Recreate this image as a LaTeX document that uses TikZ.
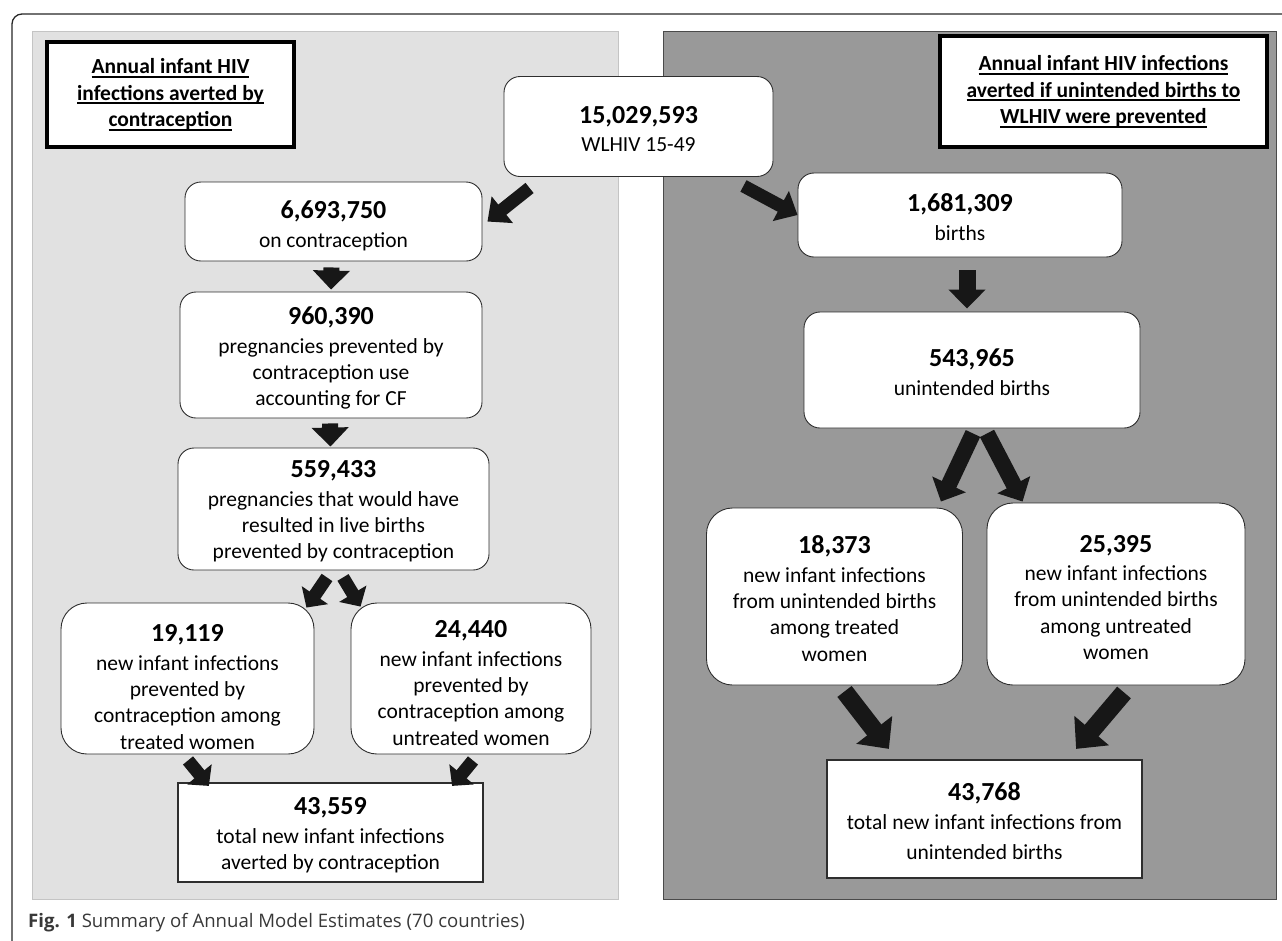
\documentclass[tikz,border=0pt]{standalone}
\usepackage{fontspec}
\setmainfont{Carlito}
\newfontfamily\capfont{Open Sans}
\usetikzlibrary{arrows.meta,calc}
\definecolor{lightpanel}{HTML}{E1E1E1}
\definecolor{lightedge}{HTML}{C4C4C4}
\definecolor{darkpanel}{HTML}{999999}
\definecolor{darkedge}{HTML}{4A4A4A}
\definecolor{arrowc}{HTML}{171717}
\definecolor{boxedge}{HTML}{2E2E2E}
\definecolor{captext}{HTML}{383838}
% number line; optional argument = downward shift of the whole text block
\newcommand{\bignum}[2][0]{\rule{0pt}{\dimexpr 18pt+#1pt+#1pt\relax}{\fontsize{26}{29}\selectfont\bfseries #2}}
\newcommand{\uln}[1]{\setbox0\hbox{#1}\rlap{\rule[-4pt]{\wd0}{1.6pt}}\box0}
\begin{document}
\begin{tikzpicture}[x=1pt,y=-1pt,
  rbox/.style={draw=boxedge, line width=0.9pt, fill=white, rounded corners=16pt,
    align=center, inner sep=0pt, font=\fontsize{21.5}{26.3}\selectfont},
  bigbox/.style={rbox, rounded corners=26pt},
  sqbox/.style={draw=boxedge, line width=2.2pt, fill=white, sharp corners,
    align=center, inner sep=0pt, font=\fontsize{21.5}{26.5}\selectfont},
  titlebox/.style={draw=black, line width=4.5pt, fill=white, align=center, inner sep=0pt,
    font=\fontsize{21.5}{26.5}\selectfont\bfseries},
  blk/.style={draw=arrowc, line width=#1, -{Triangle[width=36pt,length=19pt]}},
  blk/.default=15pt,
  blkdiag/.style={draw=arrowc, line width=13pt, -{Triangle[width=33pt,length=19pt]}},
  blkbig/.style={draw=arrowc, line width=18pt, -{Triangle[width=44pt,length=24pt]}},
  blksmall/.style={draw=arrowc, line width=13pt, -{Triangle[width=31pt,length=15pt]}}
]
\useasboundingbox (0,0) rectangle (1282,940);
% outer frame
\draw[line width=1.3pt, draw=black!85, rounded corners=10pt] (12,950) -- (12,14) -- (1295,14);
% panels
\filldraw[fill=lightpanel, draw=lightedge, line width=1pt] (32,31) rectangle (618,899);
\filldraw[fill=darkpanel, draw=darkedge, line width=1pt] (663,31) rectangle (1276,899);

% title boxes
\node[titlebox, minimum width=247pt, minimum height=105pt] (tl) at (170.5,94.5)
  {\uln{Annual infant HIV}\\\uln{infections averted by}\\\uln{contraception}};
\node[titlebox, minimum width=327pt, minimum height=111pt] (tr) at (1103.5,91.5)
  {\uln{Annual infant HIV infections}\\\uln{averted if unintended births to}\\\uln{WLHIV were prevented}};

% left column
\node[rbox, minimum width=269pt, minimum height=100pt] (n15) at (638.5,126.5)
  {\bignum[2]{15,029,593}\\[1.5pt]WLHIV 15-49};
\node[rbox, minimum width=297pt, minimum height=79pt] (n669) at (333.5,221.5)
  {\bignum[4]{6,693,750}\\[2.5pt]on contraception};
\node[rbox, minimum width=302pt, minimum height=126pt] (n960) at (331,355)
  {\bignum[3]{960,390}\\[2.5pt]pregnancies prevented by\\contraception use\\accounting for CF};
\node[rbox, minimum width=311pt, minimum height=122pt] (n559) at (333.5,509)
  {\bignum[2]{559,433}\\[2.5pt]pregnancies that would have\\resulted in live births\\prevented by contraception};
\node[bigbox, minimum width=253pt, minimum height=151pt] (n191) at (187.5,678.5)
  {\bignum[8]{19,119}\\[2.5pt]new infant infections\\prevented by\\contraception among\\treated women};
\node[bigbox, minimum width=240pt, minimum height=151pt] (n244) at (471,678.5)
  {\bignum[4]{24,440}\\[2.5pt]new infant infections\\prevented by\\contraception among\\untreated women};
\node[sqbox, minimum width=305pt, minimum height=99pt] (n435) at (330.5,832.5)
  {\bignum[2]{43,559}\\[2.5pt]total new infant infections\\averted by contraception};

% right column
\node[rbox, minimum width=324pt, minimum height=84pt] (nb) at (960,215)
  {\bignum[2]{1,681,309}\\[2pt]births};
\node[rbox, minimum width=336pt, minimum height=116pt] (n543) at (972,370)
  {\bignum[2]{543,965}\\[2pt]unintended births};
\node[bigbox, minimum width=256pt, minimum height=177pt] (n183) at (834.5,596.5)
  {\bignum[2]{18,373}\\[2pt]new infant infections\\from unintended births\\among treated\\women};
\node[bigbox, minimum width=258pt, minimum height=182pt] (n253) at (1116,594)
  {\bignum[3]{25,395}\\[2pt]new infant infections\\from unintended births\\among untreated\\women};
\node[sqbox, minimum width=315pt, minimum height=118pt,
  font=\fontsize{21.5}{29.5}\selectfont] (n437) at (984.5,819)
  {\bignum[2]{43,768}\\total new infant infections from\\unintended births};

% caption
\node[anchor=west, inner sep=0pt, text=captext, font=\capfont\fontsize{18.6}{21}\selectfont] (cap) at (28,923)
  {\textbf{Fig. 1} Summary of Annual Model Estimates (70 countries)};

% arrows left
\draw[blkdiag] ($(n15.south west)+(26,11)$) -- ($(n669.north east)+(5,40)$);
\draw[blk=16pt] ($(n669.south)+(-2,6)$) -- ($(n960.north)+(0,-2)$);
\draw[blk=16pt] ($(n960.south)+(-1,5)$) -- ($(n559.north)+(-3,-1)$);
\draw[blksmall] ($(n559.south)+(-6.5,7)$) -- ($(n191.north east)+(-8,5)$);
\draw[blksmall] ($(n559.south)+(9.5,7)$) -- ($(n244.north west)+(10,4)$);
\draw[blksmall] ($(n191.south)+(0.5,6)$) -- ($(n435.north west)+(32,4)$);
\draw[blksmall] ($(n244.south)+(2,6)$) -- ($(n435.north east)+(-32,4)$);

% arrows right
\draw[blkdiag] ($(n15.south east)+(-30,9)$) -- ($(nb.west)+(0,0)$);
\draw[blk=17pt] ($(nb.south)+(7,13)$) -- ($(n543.north)+(-5,-3)$);
\draw[blk=16pt] ($(n543.south)+(1,5)$) -- ($(n183.north east)+(-22,-6)$);
\draw[blk=16pt] ($(n543.south)+(15,5)$) -- ($(n253.north west)+(36,-1)$);
\draw[blkbig] ($(n183.south)+(10,6)$) -- ($(n437.north west)+(63,-10)$);
\draw[blkbig] ($(n253.south)+(8,7)$) -- ($(n437.north east)+(-67,-10)$);
\end{tikzpicture}
\end{document}
